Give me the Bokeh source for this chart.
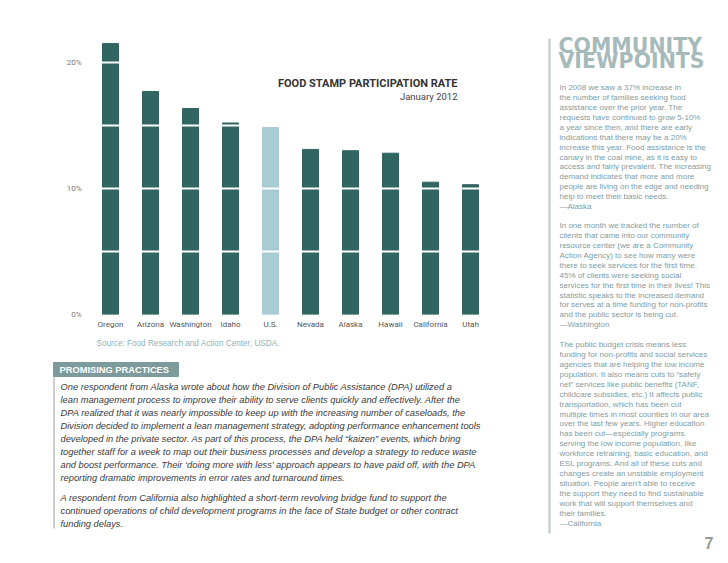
from bokeh.plotting import figure
from bokeh.models import Range1d, FactorRange, FixedTicker, Label
from bokeh.layouts import row, column
from bokeh.embed import file_html
from bokeh.resources import INLINE
from bokeh.core.properties import value

# ---------------- data ----------------
states = ["Oregon", "Arizona", "Washington", "Idaho", "U.S.", "Nevada",
          "Alaska", "Hawaii", "California", "Utah"]
rates = [21.5, 17.7, 16.35, 15.2, 14.85, 13.1, 13.0, 12.8, 10.5, 10.3]
y_ticks = [0, 10, 20]
y_tick_labels = ["0%", "10%", "20%"]
grid_steps = [5, 10, 15, 20]
highlight = "U.S."

chart_title = "FOOD STAMP PARTICIPATION RATE"
chart_subtitle = "January 2012"
source_text = "Source: Food Research and Action Center, USDA."

practices_header = "PROMISING PRACTICES"
practices_para1 = [
    "One respondent from Alaska wrote about how the Division of Public Assistance (DPA) utilized a",
    "lean management process to improve their ability to serve clients quickly and effectively. After the",
    "DPA realized that it was nearly impossible to keep up with the increasing number of caseloads, the",
    "Division decided to implement a lean management strategy, adopting performance enhancement tools",
    "developed in the private sector. As part of this process, the DPA held \u201ckaizen\u201d events, which bring",
    "together staff for a week to map out their business processes and develop a strategy to reduce waste",
    "and boost performance. Their \u2018doing more with less\u2019 approach appears to have paid off, with the DPA",
    "reporting dramatic improvements in error rates and turnaround times.",
]
practices_para2 = [
    "A respondent from California also highlighted a short-term revolving bridge fund to support the",
    "continued operations of child development programs in the face of State budget or other contract",
    "funding delays.",
]

side_title = ["COMMUNITY", "VIEWPOINTS"]
quote_alaska = [
    "In 2008 we saw a 37% increase in",
    "the number of families seeking food",
    "assistance over the prior year. The",
    "requests have continued to grow 5-10%",
    "a year since then, and there are early",
    "indications that there may be a 20%",
    "increase this year. Food assistance is the",
    "canary in the coal mine, as it is easy to",
    "access and fairly prevalent. The increasing",
    "demand indicates that more and more",
    "people are living on the edge and needing",
    "help to meet their basic needs.",
    "\u2014Alaska",
]
quote_washington = [
    "In one month we tracked the number of",
    "clients that came into our community",
    "resource center (we are a Community",
    "Action Agency) to see how many were",
    "there to seek services for the first time.",
    "45% of clients were seeking social",
    "services for the first time in their lives! This",
    "statistic speaks to the increased demand",
    "for serves at a time funding for non-profits",
    "and the public sector is being cut.",
    "\u2014Washington",
]
quote_california = [
    "The public budget crisis means less",
    "funding for non-profits and social services",
    "agencies that are helping the low income",
    "population. It also means cuts to \u201csafety",
    "net\u201d services like public benefits (TANF,",
    "childcare subsidies, etc.) It affects public",
    "transportation, which has been cut",
    "multiple times in most counties in our area",
    "over the last few years. Higher education",
    "has been cut\u2014especially programs",
    "serving the low income population, like",
    "workforce retraining, basic education, and",
    "ESL programs. And all of these cuts and",
    "changes create an unstable employment",
    "situation. People aren\u2019t able to receive",
    "the support they need to find sustainable",
    "work that will support themselves and",
    "their families.",
    "\u2014California",
]
page_number = "7"

# ---------------- styles ----------------
DARK = "#306562"
LIGHT = "#a9cbd3"
SANS = "Liberation Sans"
COND = "Roboto"

# ---------------- chart ----------------
colors = [LIGHT if s == highlight else DARK for s in states]

p = figure(x_range=FactorRange(*states), y_range=Range1d(0, 22.38),
           width=530, height=332, output_backend="svg", toolbar_location=None,
           min_border_left=90, min_border_right=40, min_border_top=32,
           min_border_bottom=18, frame_align=False)
p.vbar(x=states, top=rates, width=0.4, color=colors)
p.outline_line_color = None
p.xgrid.visible = False
p.ygrid.ticker = FixedTicker(ticks=grid_steps)
p.ygrid.grid_line_color = "white"
p.ygrid.grid_line_width = 2
p.ygrid.level = "overlay"

p.yaxis.ticker = FixedTicker(ticks=y_ticks)
p.yaxis.major_label_overrides = {t: l for t, l in zip(y_ticks, y_tick_labels)}
for ax in (p.xaxis, p.yaxis):
    ax.axis_line_color = None
    ax.major_tick_line_color = None
    ax.minor_tick_line_color = None
    ax.major_tick_out = 0
    ax.major_tick_in = 0
p.yaxis.major_label_standoff = 9
p.yaxis.major_label_text_font = COND
p.yaxis.major_label_text_font_size = "8px"
p.yaxis.major_label_text_color = "#7a7a7a"
p.xaxis.major_label_standoff = 5
p.xaxis.major_label_text_font = COND
p.xaxis.major_label_text_font_size = "8px"
p.xaxis.major_label_text_color = "#555555"

p.add_layout(Label(x=367, y=231, x_units="screen", y_units="screen",
                   text=chart_title, text_align="right", text_baseline="middle",
                   text_font=COND, text_font_style="bold",
                   text_font_size="11px", text_color="#333333"))
p.add_layout(Label(x=367, y=218, x_units="screen", y_units="screen",
                   text=chart_subtitle, text_align="right", text_baseline="middle",
                   text_font=COND, text_font_size="9.5px", text_color="#444444"))


def blank(w, h, x0, x1, y0, y1):
    f = figure(width=w, height=h, x_range=Range1d(x0, x1), y_range=Range1d(y1, y0),
               output_backend="svg", toolbar_location=None,
               x_axis_location=None, y_axis_location=None, min_border=0,
               frame_align=False)
    f.grid.visible = False
    f.outline_line_color = None
    return f


# ---------------- lower-left text ----------------
t = blank(530, 231, 0, 530, 332, 563)
t.text(x=[96], y=[342.5], text=[source_text], text_font=value(SANS),
       text_font_size="8.2px", text_color="#8db3b8", text_baseline="middle")
t.quad(left=[53], right=[178], top=[362], bottom=[376], color="#7d9b9c")
t.text(x=[59], y=[369.5], text=[practices_header], text_font=value(SANS),
       text_font_style="bold", text_font_size="9.3px", text_color="white",
       text_baseline="middle")
t.segment(x0=[53.5], y0=[376], x1=[53.5], y1=[528], color="#a0a0a0", line_width=1)
lines = practices_para1 + practices_para2
ys = [386 + 13 * i for i in range(len(practices_para1))]
ys += [497 + 13 * i for i in range(len(practices_para2))]
t.text(x=[60] * len(lines), y=ys, text=lines, text_font=value(SANS),
       text_font_style="italic", text_font_size="9.3px", text_color="#3a3a3a",
       text_baseline="middle")

# ---------------- right column ----------------
r = blank(198, 563, 530, 728, 0, 563)
r.segment(x0=[549], y0=[38], x1=[549], y1=[533], color="#c6d0d0", line_width=2.5)
r.text(x=[558, 558], y=[45.5, 60.5], text=side_title, text_font=value("DejaVu Sans"),
       text_font_style="bold", text_font_size="20.5px", text_color="#a7babb",
       text_baseline="middle")
qx, qy, qt = [], [], []
for start, block in ((87, quote_alaska), (225, quote_washington), (344, quote_california)):
    for i, s in enumerate(block):
        qx.append(559)
        qy.append(start + 9.93 * i)
        qt.append(s)
r.text(x=qx, y=qy, text=qt, text_font=value(SANS), text_font_size="8px",
       text_color="#7f9c9f", text_baseline="middle")
r.text(x=[713], y=[542], text=[page_number], text_font=value(SANS),
       text_font_style="bold", text_font_size="16px", text_color="#9a9a9a",
       text_align="right", text_baseline="middle")

layout = row(column(p, t), r)
open("out.html", "w").write(file_html(layout, INLINE))
